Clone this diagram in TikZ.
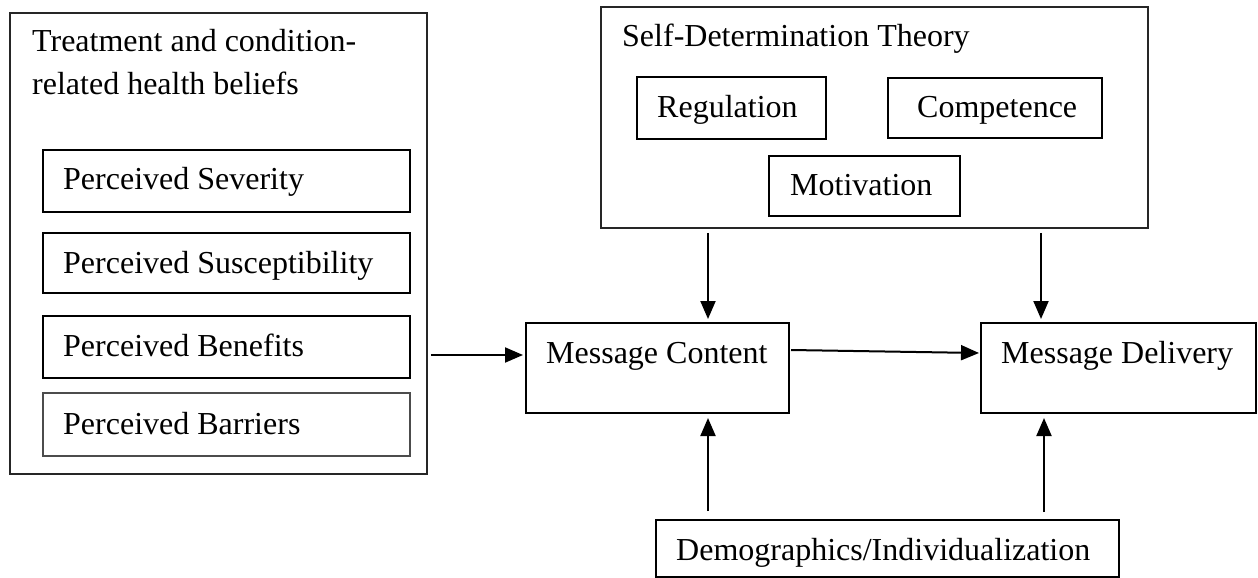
\documentclass[tikz,border=0pt]{standalone}
\usepackage{fontspec}
\setmainfont{Liberation Serif}
\usetikzlibrary{arrows.meta,calc}
\begin{document}
\begin{tikzpicture}[x=1pt,y=-1pt,
  box/.style={draw=black, line width=2pt, inner sep=0pt},
  frame/.style={draw=black!85, line width=1.6pt, inner sep=0pt},
  thinbox/.style={draw=black!70, line width=1.3pt, inner sep=0pt},
  lbl/.style={anchor=base west, inner sep=0pt, font=\fontsize{32}{43}\selectfont},
  arr/.style={line width=2pt, -{Triangle[length=18pt,width=15pt]}}]
\useasboundingbox (0,0) rectangle (1258,578);

% health belief model group
\node[frame, minimum width=417pt, minimum height=461pt] (hb) at (218.5,243.5) {};
\node[lbl] (hbt1) at (32,52) {Treatment and condition-};
\node[lbl] (hbt2) at (32,95) {related health beliefs};
\node[box, minimum width=367pt, minimum height=62pt] (sev) at (226.5,181) {};
\node[lbl] (sevt) at (63,189) {Perceived Severity};
\node[box, minimum width=367pt, minimum height=60pt] (sus) at (226.5,263) {};
\node[lbl] (sust) at (63,273) {Perceived Susceptibility};
\node[box, minimum width=367pt, minimum height=62pt] (ben) at (226.5,347) {};
\node[lbl] (bent) at (63,356) {Perceived Benefits};
\node[thinbox, minimum width=367pt, minimum height=63pt] (bar) at (226.5,424.5) {};
\node[lbl] (bart) at (63,434) {Perceived Barriers};

% self-determination theory group
\node[frame, minimum width=547pt, minimum height=221pt] (sdt) at (874.5,117.5) {};
\node[lbl] (sdtt) at (622,47) {Self-Determination Theory};
\node[box, minimum width=189pt, minimum height=62pt] (reg) at (731.5,108) {};
\node[lbl] (regt) at (657,117) {Regulation};
\node[box, minimum width=214pt, minimum height=60pt] (com) at (995,108) {};
\node[lbl] (comt) at (917,117) {Competence};
\node[box, minimum width=191pt, minimum height=60pt] (mot) at (864.5,186) {};
\node[lbl] (mott) at (790,195) {Motivation};

% message boxes
\node[box, minimum width=263pt, minimum height=90pt] (mc) at (657.5,368) {};
\node[lbl] (mct) at (546,363) {Message Content};
\node[box, minimum width=275pt, minimum height=90pt] (md) at (1118.5,368) {};
\node[lbl] (mdt) at (1001,363) {Message Delivery};
\node[box, minimum width=463pt, minimum height=57pt] (demo) at (887.5,548.5) {};
\node[lbl] (demot) at (676,560) {Demographics/Individualization};

% connectors
\draw[arr] ($(hb.east |- mc.west)+(3,-13)$) -- ($(mc.west)+(-2,-13)$);
\draw[arr] ($(mc.east)+(1,-18)$) -- ($(md.west)+(-1,-15)$);
\draw[arr] ($(sdt.south -| mc.north)+(50.5,4)$) -- ($(mc.north)+(50.5,-3)$);
\draw[arr] ($(sdt.south -| md.north)+(-77.5,4)$) -- ($(md.north)+(-77.5,-3)$);
\draw[arr] ($(demo.north -| mc.south)+(50.5,-8)$) -- ($(mc.south)+(50.5,4)$);
\draw[arr] ($(demo.north -| md.south)+(-74.5,-7)$) -- ($(md.south)+(-74.5,4)$);
\end{tikzpicture}
\end{document}
